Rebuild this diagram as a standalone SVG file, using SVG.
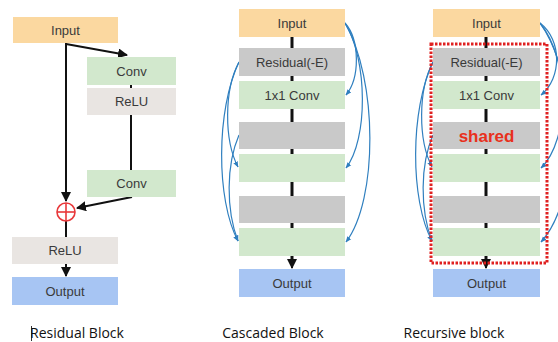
<svg xmlns="http://www.w3.org/2000/svg" width="558" height="342" viewBox="0 0 558 342">
<style>
.t{font-family:"Liberation Sans",Arial,sans-serif;font-size:13px;fill:#3a3a3a;text-anchor:middle;dominant-baseline:central}
.cap{font-family:"Open Sans","DejaVu Sans",sans-serif;font-size:14px;fill:#111;text-anchor:middle}
.in{fill:#fbd8a0}.gr{fill:#d2e8cd}.gy{fill:#c9c9c9}.rl{fill:#e9e5e2}.out{fill:#a7c5f3}
.k{stroke:#111;stroke-width:2;fill:none}
.kt{stroke:#111;stroke-width:3;fill:none}
.b{stroke:#2f7fbf;stroke-width:1.2;fill:none;marker-end:url(#ab)}
</style>
<defs>
<marker id="ak" viewBox="0 0 10 10" refX="9" refY="5" markerWidth="5" markerHeight="5" orient="auto" markerUnits="strokeWidth"><path d="M0,0 L10,5 L0,10 z" fill="#111"/></marker>
<marker id="ab" viewBox="0 0 10 10" refX="9" refY="5" markerWidth="5" markerHeight="5" orient="auto" markerUnits="strokeWidth"><path d="M0,1 L10,5 L0,9 z" fill="#2f7fbf"/></marker>
</defs>

<!-- connectors -->
<g id="connectors">
<!-- residual block -->
<line class="k" x1="66" y1="43" x2="66" y2="201" marker-end="url(#ak)"/>
<line class="k" x1="66" y1="44" x2="127" y2="55" marker-end="url(#ak)"/>
<line class="k" x1="131" y1="85" x2="131" y2="88"/>
<line class="k" x1="131" y1="115" x2="131" y2="170"/>
<line class="k" x1="132" y1="197" x2="77" y2="208" marker-end="url(#ak)"/>
<line class="k" x1="66" y1="221" x2="66" y2="237"/>
<line class="k" x1="66" y1="264" x2="66" y2="276" marker-end="url(#ak)"/>
<!-- cascaded block -->
<line class="kt" x1="292" y1="37" x2="292" y2="263"/>
<line class="k" x1="292" y1="262" x2="292" y2="268" marker-end="url(#ak)"/>
<path class="b" d="M345,23 C360,40 360,78 346,95"/>
<path class="b" d="M345,23 C368,60 368,140 346,168"/>
<path class="b" d="M345,23 C378,80 378,200 346,242"/>
<path class="b" d="M239,62 C224,90 224,140 238,167"/>
<path class="b" d="M239,62 C216,110 216,200 238,241"/>
<path class="b" d="M239,135 C226,165 226,210 238,241"/>
<!-- recursive block -->
<line class="kt" x1="486" y1="37" x2="486" y2="263"/>
<line class="k" x1="486" y1="262" x2="486" y2="268" marker-end="url(#ak)"/>
<path class="b" d="M540,23 C562,40 562,78 541,95"/>
<path class="b" d="M540,23 C570,60 570,140 541,168"/>
<path class="b" d="M540,23 C580,80 580,200 541,242"/>
<path class="b" d="M433,62 C418,90 418,140 432,167"/>
<path class="b" d="M433,62 C410,110 410,200 432,241"/>
<path class="b" d="M433,135 C420,165 420,210 432,241"/>
</g>

<!-- Residual block -->
<g id="r-input"><rect class="in" x="13" y="17" width="105" height="26"/><text class="t" x="65.5" y="30">Input</text></g>
<g id="r-conv1"><rect class="gr" x="87" y="57" width="89" height="28"/><text class="t" x="131.5" y="71">Conv</text></g>
<g id="r-relu1"><rect class="rl" x="87" y="88" width="89" height="27"/><text class="t" x="131.5" y="101.5">ReLU</text></g>
<g id="r-conv2"><rect class="gr" x="87" y="170" width="89" height="27"/><text class="t" x="131.5" y="183.5">Conv</text></g>
<g id="r-plus"><circle cx="66" cy="212" r="9" fill="#fff" stroke="#e8383a" stroke-width="1.6"/><line x1="57" y1="212" x2="75" y2="212" stroke="#e8383a" stroke-width="1.6"/><line x1="66" y1="203" x2="66" y2="221" stroke="#e8383a" stroke-width="1.6"/></g>
<g id="r-relu2"><rect class="rl" x="12" y="237" width="106" height="27"/><text class="t" x="65" y="250.5">ReLU</text></g>
<g id="r-output"><rect class="out" x="12" y="277" width="106" height="28"/><text class="t" x="65" y="291">Output</text></g>

<!-- Cascaded block -->
<g id="c-input"><rect class="in" x="239" y="9" width="106" height="28"/><text class="t" x="292" y="23">Input</text></g>
<g id="c-res1"><rect class="gy" x="239" y="48" width="106" height="28"/><text class="t" x="292" y="62">Residual(-E)</text></g>
<g id="c-conv1"><rect class="gr" x="239" y="81" width="106" height="28"/><text class="t" x="292" y="95">1x1 Conv</text></g>
<g id="c-res2"><rect class="gy" x="239" y="122" width="106" height="27"/></g>
<g id="c-conv2"><rect class="gr" x="239" y="154" width="106" height="28"/></g>
<g id="c-res3"><rect class="gy" x="239" y="196" width="106" height="27"/></g>
<g id="c-conv3"><rect class="gr" x="239" y="228" width="106" height="28"/></g>
<g id="c-output"><rect class="out" x="239" y="269" width="106" height="28"/><text class="t" x="292" y="283">Output</text></g>

<!-- Recursive block -->
<g id="rc-input"><rect class="in" x="433" y="9" width="107" height="28"/><text class="t" x="486.5" y="23">Input</text></g>
<g id="rc-res1"><rect class="gy" x="433" y="48" width="107" height="28"/><text class="t" x="486.5" y="62">Residual(-E)</text></g>
<g id="rc-conv1"><rect class="gr" x="433" y="81" width="107" height="28"/><text class="t" x="486.5" y="95">1x1 Conv</text></g>
<g id="rc-res2"><rect class="gy" x="433" y="122" width="107" height="27"/><text x="486.5" y="136" text-anchor="middle" dominant-baseline="central" font-family="Liberation Sans,Arial,sans-serif" font-size="17" font-weight="bold" fill="#e8301c">shared</text></g>
<g id="rc-conv2"><rect class="gr" x="433" y="154" width="107" height="28"/></g>
<g id="rc-res3"><rect class="gy" x="433" y="196" width="107" height="27"/></g>
<g id="rc-conv3"><rect class="gr" x="433" y="228" width="107" height="28"/></g>
<g id="rc-output"><rect class="out" x="433" y="269" width="107" height="28"/><text class="t" x="486.5" y="283">Output</text></g>
<g id="rc-shared-frame"><rect x="431" y="44" width="116" height="219" fill="none" stroke="#e02020" stroke-width="3" stroke-dasharray="2.5 1.5"/></g>

<!-- captions -->
<line x1="31.5" y1="326" x2="31.5" y2="341" stroke="#333" stroke-width="1"/>
<text class="cap" x="77" y="338">Residual Block</text>
<text class="cap" x="273" y="338">Cascaded Block</text>
<text class="cap" x="454" y="338">Recursive block</text>
</svg>
